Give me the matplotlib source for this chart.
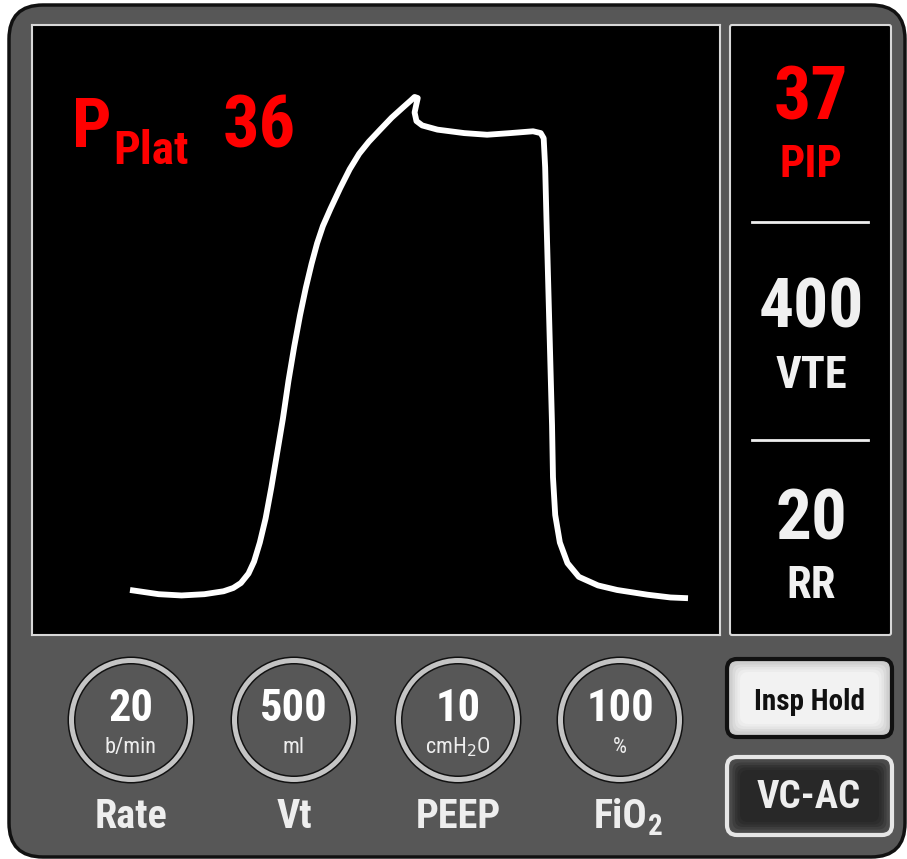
import matplotlib
matplotlib.use("Agg")
import matplotlib.pyplot as plt
from matplotlib.patches import FancyBboxPatch, Circle

FONT = ["Liberation Sans Narrow", "Roboto Condensed", "Roboto", "DejaVu Sans"]
plt.rcParams["font.family"] = FONT
plt.rcParams["mathtext.fontset"] = "custom"
plt.rcParams["mathtext.rm"] = "Liberation Sans Narrow"
plt.rcParams["mathtext.bf"] = "Liberation Sans Narrow:bold"

# pressure waveform (time in s, pressure in cmH2O)
time_s = [0.0, 0.154, 0.277, 0.400, 0.503, 0.555, 0.596, 0.637, 0.667, 0.698,
          0.729, 0.760, 0.791, 0.822, 0.852, 0.883, 0.914, 0.945, 0.976, 1.006,
          1.037, 1.078, 1.130, 1.181, 1.232, 1.284, 1.345, 1.407, 1.468, 1.510,
          1.530, 1.547, 1.540, 1.530, 1.540, 1.571, 1.653, 1.797, 1.920, 2.044,
          2.167, 2.208, 2.224, 2.232, 2.239, 2.249, 2.259, 2.269, 2.274, 2.286,
          2.311, 2.352, 2.413, 2.516, 2.619, 2.783, 2.906, 3.0]
pressure = [10.0, 9.77, 9.70, 9.77, 9.93, 10.11, 10.38, 10.90, 11.56, 12.60,
            13.92, 15.62, 17.50, 19.38, 21.46, 23.34, 25.04, 26.54, 27.86, 28.99,
            29.93, 30.88, 32.01, 33.04, 33.89, 34.55, 35.21, 35.87, 36.43, 36.81,
            37.0, 36.94, 36.62, 36.15, 35.68, 35.44, 35.21, 35.02, 34.93, 35.02,
            35.12, 35.02, 34.74, 33.14, 30.31, 26.54, 22.78, 19.01, 16.18, 14.11,
            12.60, 11.47, 10.72, 10.25, 10.00, 9.74, 9.59, 9.55]

pplat = "36"
monitor_values = ["37", "400", "20"]
monitor_names = ["PIP", "VTE", "RR"]
setting_values = ["20", "500", "10", "100"]
setting_units = ["b/min", "ml", r"cmH$_\mathrm{2}$O", "%"]
setting_names = ["Rate", "Vt", "PEEP", "FiO"]
setting_subs = ["", "", "", "2"]

RED = "#ff0000"
WHITE = "#f0f0f0"
GRAY = "#575757"

W, H = 907, 859
fig = plt.figure(figsize=(W / 100, H / 100), dpi=100)
fig.patch.set_facecolor("white")

bg = fig.add_axes([0, 0, 1, 1])
bg.set_xlim(0, W)
bg.set_ylim(H, 0)
bg.axis("off")


def rbox(x0, y0, x1, y1, r, fc, ec="none", lw=0, z=1):
    p = FancyBboxPatch((x0, y0), x1 - x0, y1 - y0,
                       boxstyle=f"round,pad=0,rounding_size={r}",
                       fc=fc, ec=ec, lw=lw, zorder=z)
    bg.add_patch(p)


# device frame
rbox(9, 5, 905, 857, 34, GRAY, "#111111", 2.5)

# right monitor panel
rbox(730, 25, 891, 635, 2, "black", "#d8d8d8", 1.5, z=2)
for ysep in (222, 440):
    bg.plot([752, 868], [ysep, ysep], color="#eeeeee", lw=2, zorder=3)

mon_colors = [RED, WHITE, WHITE]
val_base = [120, 328, 540]
name_base = [177, 388, 598]
val_size = [53, 50, 51]
for v, n, c, yb, yn, s in zip(monitor_values, monitor_names, mon_colors,
                               val_base, name_base, val_size):
    bg.text(811, yb, v, color=c, fontsize=s, fontweight="bold",
            ha="center", va="baseline", zorder=4)
    bg.text(811, yn, n, color=c, fontsize=32, fontweight="bold",
            ha="center", va="baseline", zorder=4)

# setting dials
dial_x = [131, 294, 458, 620]
dial_y = 720
for x, v, u, n, sub in zip(dial_x, setting_values, setting_units,
                           setting_names, setting_subs):
    bg.add_patch(Circle((x, dial_y), 63.5, fc="#111111", zorder=2))
    bg.add_patch(Circle((x, dial_y), 62, fc="#c4c4c4", zorder=2))
    bg.add_patch(Circle((x, dial_y), 57, fc="#111111", zorder=2))
    bg.add_patch(Circle((x, dial_y), 55.5, fc=GRAY, zorder=2))
    bg.text(x, 721, v, color="white", fontsize=32, fontweight="bold",
            ha="center", va="baseline", zorder=3)
    bg.text(x, 753, u, color="#eeeeee", fontsize=16,
            ha="center", va="baseline", zorder=3)
    if sub:
        bg.text(x + 27, 828, n, color="#eeeeee", fontsize=29, fontweight="bold",
                ha="right", va="baseline", zorder=3)
        bg.text(x + 28, 835, sub, color="#eeeeee", fontsize=21,
                fontweight="bold", ha="left", va="baseline", zorder=3)
    else:
        bg.text(x, 828, n, color="#eeeeee", fontsize=29, fontweight="bold",
                ha="center", va="baseline", zorder=3)

# buttons
insp_layers = ["#cfcfcf", "#dadada", "#e4e4e4", "#ececec", "#f2f2f2"]
rbox(727, 659, 892, 737, 10, "#c8c8c8", "#111111", 3, z=2)
for i, c in enumerate(insp_layers):
    d = 3 + i * 2.5
    rbox(727 + d, 659 + d, 892 - d, 737 - d, 8, c, z=3)
bg.text(809, 710, "Insp Hold", color="#111111", fontsize=21,
        fontweight="bold", ha="center", va="baseline", zorder=4)

vc_layers = ["#4a4a4a", "#3e3e3e", "#343434", "#2d2d2d", "#282828"]
rbox(727, 757, 892, 835, 10, "#505050", "#e6e6e6", 3, z=2)
for i, c in enumerate(vc_layers):
    d = 3 + i * 2.5
    rbox(727 + d, 757 + d, 892 - d, 835 - d, 8, c, z=3)
bg.text(809, 808, "VC-AC", color="#eeeeee", fontsize=28,
        fontweight="bold", ha="center", va="baseline", zorder=4)

# waveform panel
ax = fig.add_axes([32 / W, 1 - 635 / H, 688 / W, 610 / H])
ax.set_facecolor("black")
for sp in ax.spines.values():
    sp.set_color("#d8d8d8")
    sp.set_linewidth(1.5)
ax.set_xticks([])
ax.set_yticks([])
ax.set_xlim(-0.527, 3.172)
ax.set_ylim(7.535, 40.94)
ax.plot(time_s, pressure, color="white", lw=4.2,
        solid_joinstyle="round", solid_capstyle="butt")

ax.text(0.058, 0.8, "P", transform=ax.transAxes, color=RED, fontsize=50,
        fontweight="bold", ha="left", va="baseline")
ax.text(0.118, 0.7725, "Plat", transform=ax.transAxes, color=RED, fontsize=34,
        fontweight="bold", ha="left", va="baseline")
ax.text(0.277, 0.8, pplat, transform=ax.transAxes, color=RED, fontsize=52,
        fontweight="bold", ha="left", va="baseline")

plt.savefig("out.png", dpi=100, facecolor="white")
